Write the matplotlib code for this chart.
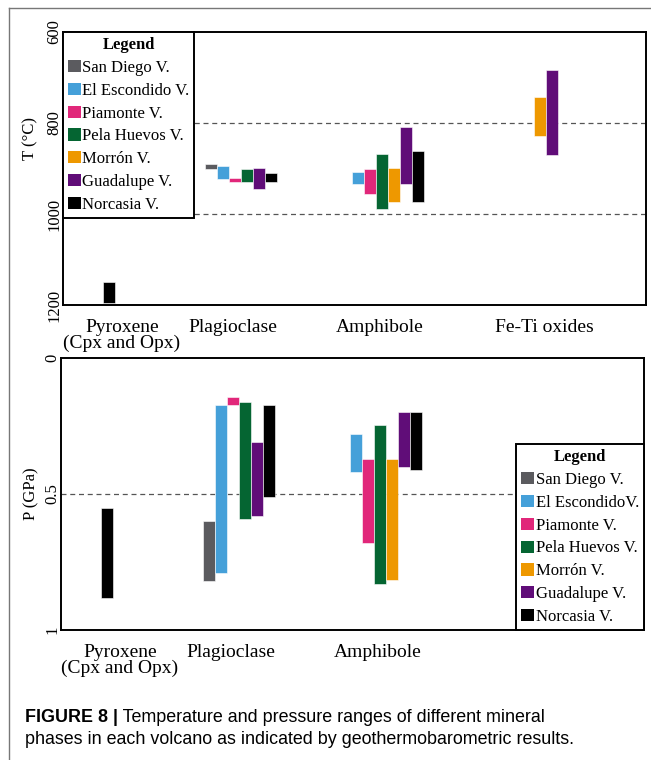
"""
Temperature and pressure ranges of mineral phases per volcano (Figure 8 style).
"""

import matplotlib
matplotlib.use("Agg")
import matplotlib.pyplot as plt
from matplotlib.patches import Patch
from matplotlib.lines import Line2D


# --- data -------------------------------------------------------------------
volcanoes = ["San Diego V.", "El Escondido V.", "Piamonte V.", "Pela Huevos V.",
             "Morrón V.", "Guadalupe V.", "Norcasia V."]
colors    = ["#5b5b5f", "#45a0d9", "#e1277a", "#056532",
             "#ee9800", "#600d78", "#000000"]

minerals_t = ["Pyroxene\n(Cpx and Opx)", "Plagioclase", "Amphibole", "Fe-Ti oxides"]
minerals_p = ["Pyroxene\n(Cpx and Opx)", "Plagioclase", "Amphibole"]

# temperature ranges (deg C): volcano -> (low, high)
t_pyroxene    = {"Norcasia V.": (1150, 1195)}
t_plagioclase = {"San Diego V.": (890, 900), "El Escondido V.": (894, 924),
                 "Piamonte V.": (921, 930), "Pela Huevos V.": (901, 929),
                 "Guadalupe V.": (898, 944), "Norcasia V.": (910, 929)}
t_amphibole   = {"El Escondido V.": (907, 935), "Piamonte V.": (900, 957),
                 "Pela Huevos V.": (869, 989), "Morrón V.": (898, 974),
                 "Guadalupe V.": (809, 935), "Norcasia V.": (862, 973)}
t_feti        = {"Morrón V.": (742, 829), "Guadalupe V.": (684, 870)}

# pressure ranges (GPa): volcano -> (low, high)
p_pyroxene    = {"Norcasia V.": (0.553, 0.881)}
p_plagioclase = {"San Diego V.": (0.60, 0.82), "El Escondido V.": (0.173, 0.79),
                 "Piamonte V.": (0.142, 0.173), "Pela Huevos V.": (0.16, 0.593),
                 "Guadalupe V.": (0.31, 0.58), "Norcasia V.": (0.173, 0.51)}
p_amphibole   = {"El Escondido V.": (0.28, 0.42), "Piamonte V.": (0.37, 0.68),
                 "Pela Huevos V.": (0.245, 0.83), "Morrón V.": (0.37, 0.815),
                 "Guadalupe V.": (0.197, 0.40), "Norcasia V.": (0.197, 0.41)}

t_ticks = [600, 800, 1000, 1200]
t_refs  = [800, 1000]
p_ticks = [0, 0.5, 1]
p_refs  = [0.5]

caption_bold = "FIGURE 8 |"
caption_1 = " Temperature and pressure ranges of different mineral"
caption_2 = "phases in each volcano as indicated by geothermobarometric results."

# --- layout (axes fraction) -------------------------------------------------
GROUP_START = [0.069, 0.244, 0.495, 0.808]
LABEL_POS   = [0.101, 0.291, 0.544, 0.825]
BAR_W       = 0.0206

SERIF = ["Liberation Serif", "DejaVu Serif"]
SANS  = ["Liberation Sans", "DejaVu Sans"]
plt.rcParams["font.family"] = SERIF


def draw_ranges(ax, groups):
    color_of = dict(zip(volcanoes, colors))
    for start, group in zip(GROUP_START, groups):
        for i, (name, (lo, hi)) in enumerate(group.items()):
            ax.bar(start + i * BAR_W, hi - lo, bottom=lo, width=BAR_W,
                   align="edge", color=color_of[name], edgecolor="white",
                   linewidth=0.4, zorder=3)


def style_axes(ax, labels, ticks, ylabel):
    ax.set_xlim(0, 1)
    ax.set_xticks(LABEL_POS[:len(labels)])
    ax.set_xticklabels(labels, fontsize=14, linespacing=0.9)
    ax.set_yticks(ticks)
    ax.set_yticklabels([f"{t:g}" for t in ticks], rotation=90,
                       va="center", fontsize=12)
    ax.tick_params(axis="both", length=0)
    ax.tick_params(axis="x", pad=10)
    ax.tick_params(axis="y", pad=0.5)
    ax.set_ylabel(ylabel, fontsize=12)
    for s in ax.spines.values():
        s.set_linewidth(1.4)


def add_legend(ax, names, loc, anchor):
    handles = [Patch(facecolor=c, edgecolor="none") for c in colors]
    leg = ax.legend(handles, names, loc=loc, bbox_to_anchor=anchor,
                    borderaxespad=0, title="Legend", fontsize=12,
                    title_fontproperties={"weight": "bold", "size": 12,
                                          "family": SERIF},
                    handlelength=0.75, handleheight=0.75, handletextpad=0.1,
                    labelspacing=0.41, borderpad=0.3, fancybox=False,
                    framealpha=1, edgecolor="black")
    leg.get_frame().set_linewidth(1.4)
    leg.set_zorder(5)
    return leg


fig = plt.figure(figsize=(6.51, 7.60), dpi=100)

# top panel: temperature
ax_t = fig.add_axes([63 / 651, 1 - 305 / 760, 583 / 651, 273 / 760])
draw_ranges(ax_t, [t_pyroxene, t_plagioclase, t_amphibole, t_feti])
for y in t_refs:
    ax_t.axhline(y, color="#555555", linestyle=(0, (4, 3)), linewidth=0.9, zorder=1)
ax_t.set_ylim(1200, 600)
style_axes(ax_t, minerals_t, t_ticks, "T (°C)")
ax_t.yaxis.set_label_coords(-0.042, 0.61)
add_legend(ax_t, volcanoes, "upper left", (0, 1))

# bottom panel: pressure
ax_p = fig.add_axes([61 / 651, 1 - 630 / 760, 583 / 651, 272 / 760])
draw_ranges(ax_p, [p_pyroxene, p_plagioclase, p_amphibole])
for y in p_refs:
    ax_p.axhline(y, color="#555555", linestyle=(0, (4, 3)), linewidth=0.9, zorder=1)
ax_p.set_ylim(1, 0)
style_axes(ax_p, minerals_p, p_ticks, "P (GPa)")
ax_p.yaxis.set_label_coords(-0.037, 0.5)
names_p = list(volcanoes)
names_p[1] = "El EscondidoV."
add_legend(ax_p, names_p, "lower right", (1, 0))

# outer frame (top and left edges only)
fig.add_artist(Line2D([9 / 651, 1], [1 - 8 / 760, 1 - 8 / 760],
                      transform=fig.transFigure, color="#777777", linewidth=1))
fig.add_artist(Line2D([9 / 651, 9 / 651], [0, 1 - 8 / 760],
                      transform=fig.transFigure, color="#777777", linewidth=1))

# caption: bold prefix, then regular text placed right after it
cap_size = 12.9
bold = fig.text(25 / 651, 1 - 717 / 760, caption_bold, fontsize=cap_size,
                family=SANS, weight="bold", va="center")
renderer = fig.canvas.get_renderer()
bb = bold.get_window_extent(renderer).transformed(fig.transFigure.inverted())
fig.text(bb.x1, 1 - 717 / 760, caption_1, fontsize=cap_size,
         family=SANS, va="center")
fig.text(25 / 651, 1 - 740 / 760, caption_2, fontsize=cap_size,
         family=SANS, va="center")

fig.savefig("out.png", dpi=100)
